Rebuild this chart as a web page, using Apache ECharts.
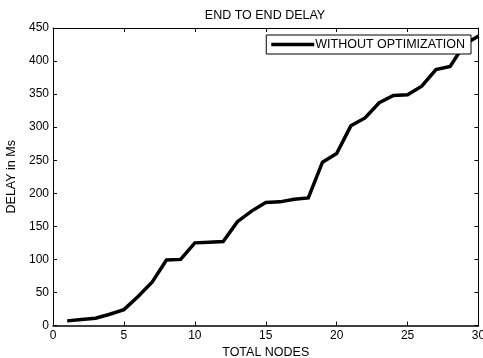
<!DOCTYPE html>
<html>
<head>
<meta charset="utf-8">
<script src="https://cdn.jsdelivr.net/npm/echarts@6/dist/echarts.min.js"></script>
<style>
  html, body { margin: 0; padding: 0; background: #fff; }
  #chart { width: 483px; height: 358px; }
</style>
</head>
<body>
<div id="chart"></div>
<script>
// Total nodes on the x axis and measured end-to-end delay (ms)
const nodes = [1, 2, 3, 4, 5, 6, 7, 8, 9, 10, 11, 12, 13, 14, 15,
               16, 17, 18, 19, 20, 21, 22, 23, 24, 25, 26, 27, 28, 29, 30];
const delayWithoutOptimization = [7, 9, 11, 17, 24, 44, 66, 99, 100, 125, 126, 127, 157, 173, 186,
                                  187, 191, 193, 247, 260, 302, 314, 337, 348, 349, 362, 387, 392, 425, 438];
const xTicks = [0, 5, 10, 15, 20, 25, 30];
const yTicks = [0, 50, 100, 150, 200, 250, 300, 350, 400, 450];

const seriesName = 'WITHOUT OPTIMIZATION';
const font = 'Liberation Sans, Arial, sans-serif';
const textSize = 12.5;
const tickSize = 12;

const chart = echarts.init(document.getElementById('chart'), null, { renderer: 'canvas' });

const gridBox = { left: 53, right: 4.5, top: 28, bottom: 32.5, outerBoundsMode: 'none', containLabel: false };

function frameAxis(base, lineWidth) {
  return Object.assign({
    axisLine: { show: true, onZero: false, lineStyle: { color: '#000', width: lineWidth || 1 } },
    axisTick: { show: true, inside: true, length: 4, lineStyle: { color: '#000', width: 1 } },
    splitLine: { show: false }
  }, base);
}

chart.setOption({
  animation: false,
  backgroundColor: '#fff',
  title: {
    text: 'END TO END DELAY',
    left: 265,
    top: 9,
    padding: 0,
    textAlign: 'center',
    textStyle: { fontFamily: font, fontSize: textSize, fontWeight: 'normal', color: '#000' }
  },
  grid: gridBox,
  legend: {
    data: [seriesName],
    right: 12,
    top: 35,
    orient: 'vertical',
    backgroundColor: '#fff',
    borderColor: '#000',
    borderWidth: 1,
    borderRadius: 0,
    padding: [3, 6, 3, 5],
    icon: 'rect',
    itemWidth: 43,
    itemHeight: 3.5,
    textStyle: { fontFamily: font, fontSize: textSize, color: '#000', padding: [0, 0, 0, -4] }
  },
  xAxis: [
    frameAxis({
      type: 'value',
      min: 0, max: 30, interval: 5,
      position: 'bottom',
      name: 'TOTAL NODES',
      nameLocation: 'middle',
      nameGap: 19,
      nameTextStyle: { fontFamily: font, fontSize: textSize, color: '#000' },
      axisLabel: {
        fontFamily: font, fontSize: tickSize, color: '#000', margin: 4,
        formatter: v => (xTicks.includes(v) ? String(v) : '')
      }
    }, 1.6),
    frameAxis({
      type: 'value',
      min: 0, max: 30, interval: 5,
      position: 'top',
      axisLabel: { show: false }
    })
  ],
  yAxis: [
    frameAxis({
      type: 'value',
      min: 0, max: 450, interval: 50,
      position: 'left',
      name: 'DELAY in Ms',
      nameLocation: 'middle',
      nameGap: 34,
      nameTextStyle: { fontFamily: font, fontSize: textSize, color: '#000' },
      axisLabel: {
        fontFamily: font, fontSize: tickSize, color: '#000', margin: 4,
        formatter: v => (yTicks.includes(v) ? String(v) : '')
      }
    }),
    frameAxis({
      type: 'value',
      min: 0, max: 450, interval: 50,
      position: 'right',
      axisLabel: { show: false }
    })
  ],
  series: [{
    name: seriesName,
    type: 'line',
    xAxisIndex: 0,
    yAxisIndex: 0,
    data: nodes.map((n, i) => [n, delayWithoutOptimization[i]]),
    showSymbol: false,
    symbol: 'none',
    lineStyle: { color: '#000', width: 3.5, join: 'miter' },
    itemStyle: { color: '#000' },
    z: 1
  }]
});
</script>
</body>
</html>
